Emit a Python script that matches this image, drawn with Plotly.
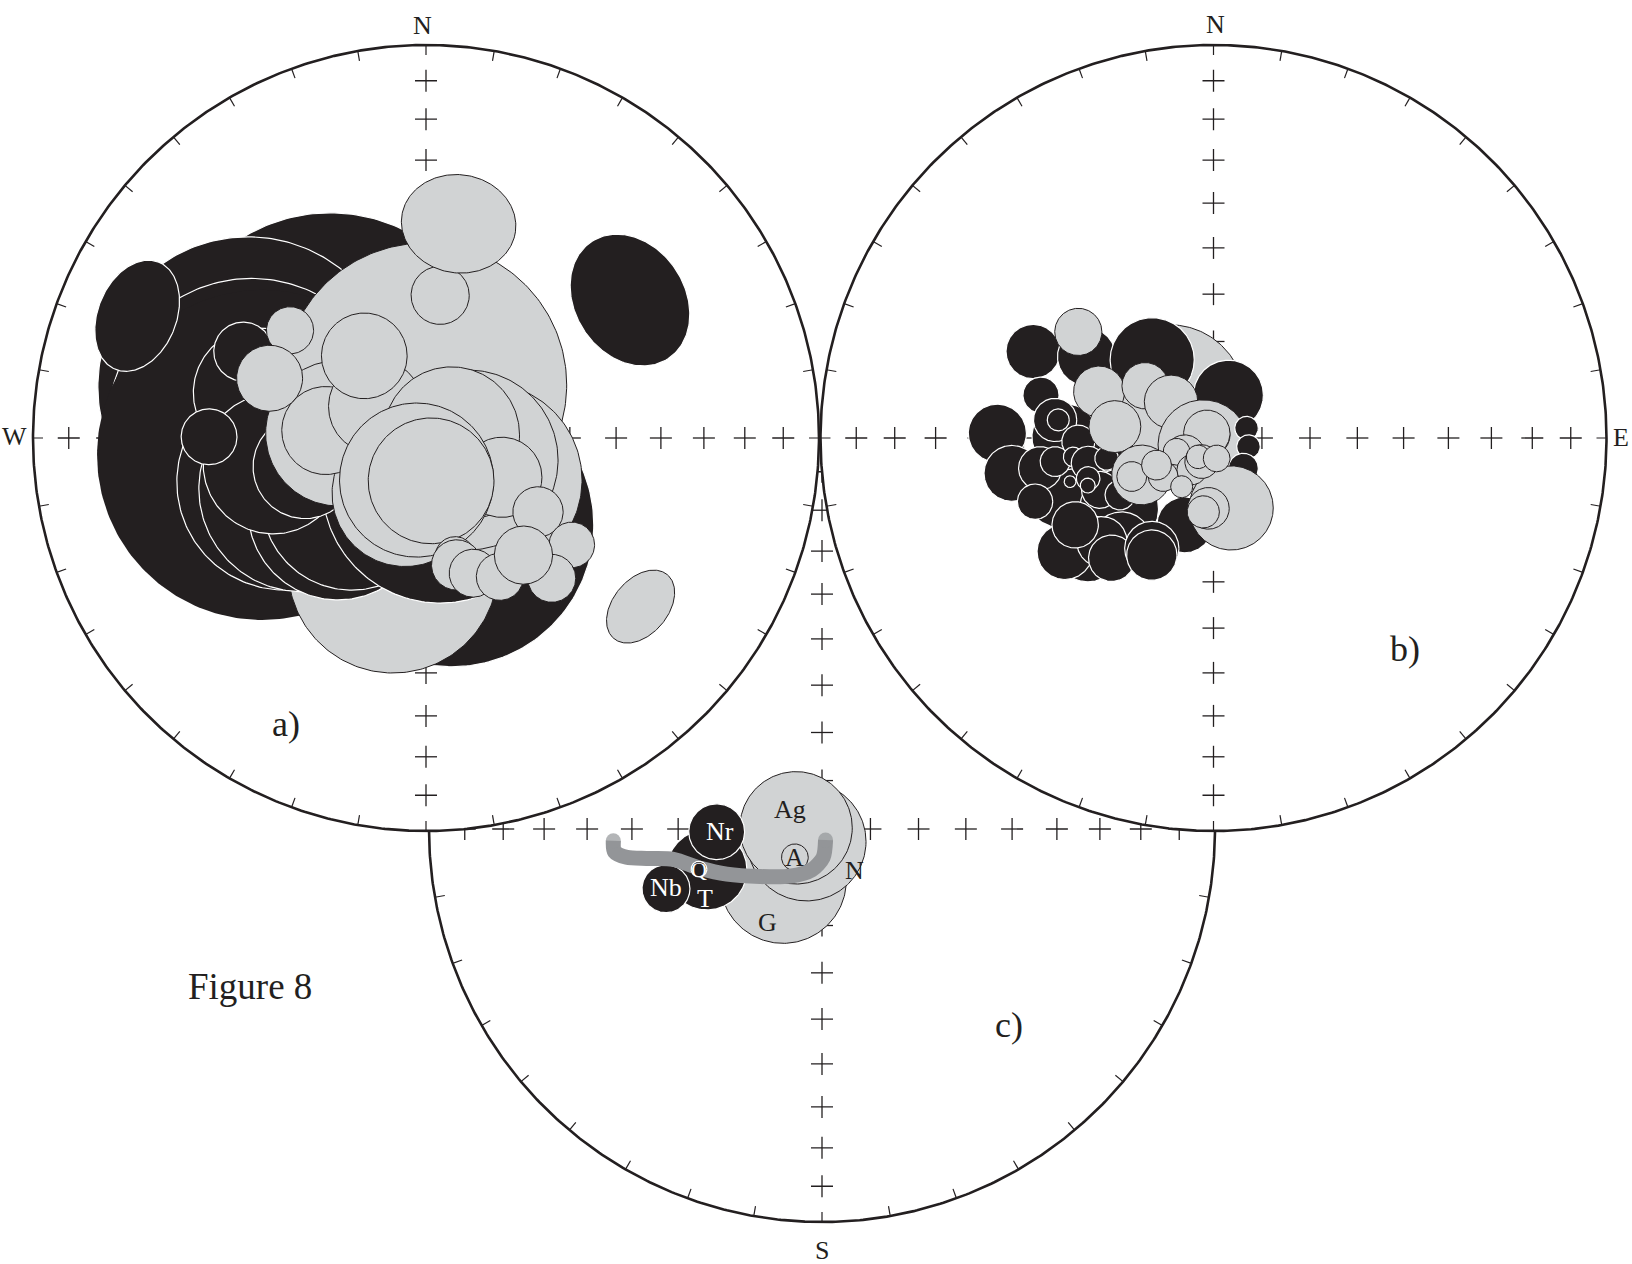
import numpy as np
import plotly.graph_objects as go

INK = "#231f20"
GREY = "#d1d3d4"
TRACK = "#939598"
SERIF = "Liberation Serif, Times New Roman, serif"

PAGE_W, PAGE_H = 1632, 1264
NET_R_PX = 393.0          # primitive radius on the page
HALF = 106.0              # axis half-range; primitive radius = 100 units

# net id, x axis, y axis, centre of the net on the page (px); drawn in this order
NETS = [("c", "x", "y", 822.0, 829.0),
        ("a", "x2", "y2", 426.0, 438.0),
        ("b", "x3", "y3", 1213.5, 438.0)]

CROSS_INCL = [10, 20, 30, 40, 50, 60, 70, 80]   # equal-area inclination crosses
TICK_STEP_DEG = 10

# ---------------- net a : confidence ovals (east, north in % of primitive radius)
# fill: B = black (white rim), K = black (no rim), G = grey (black rim)
A_EAST = [-24.4, 6.6, -45.3, -44.4, -41.7, -73.5, -8.4, -35.9, -31.6, -22.4, -18.9, 3.6,
          -42.7, -38.9, -55.2, -30.8, -46.5, -0.3, 15.0, 10.7, -22.3, -5.3, 3.1,
          -25.5, -12.8, -15.7, -34.6, -39.8, 3.6, 8.3, 6.5, 13.7, 19.3, -2.4, 1.3,
          28.5, 37.1, 32.0, 5.3, 7.4, 7.8, 12.0, 18.8, 24.8, 51.9, 54.6]
A_NORTH = [14.8, -22.1, 13.0, 4.3, -4.3, 31.1, -33.1, -11.2, -12.9, -18.3, -15.8, -12.0,
           11.5, -6.6, 0.3, -7.3, 22.0, 13.5, -10.7, -5.6, 1.2, -14.1, -2.2,
           1.9, 8.0, 20.9, 27.4, 15.2, 36.3, 54.5, 0.8, -13.2, -10.0, -10.7, -10.9,
           -18.8, -27.2, -35.7, -32.3, -30.2, -32.3, -34.4, -35.3, -29.8, 35.1, -42.9]
A_SEMI_MAJOR = [42.5, 36.1, 38.2, 36.3, 42.0, 14.7, 26.7, 27.5, 26.2, 22.9, 22.9, 30.0,
                16.5, 17.8, 7.1, 13.2, 7.5, 36.1, 24.7, 22.9, 18.5, 18.6, 18.2,
                11.2, 12.0, 10.9, 6.0, 8.4, 7.4, 14.6, 17.3, 6.9, 10.2, 19.6, 16.0,
                6.4, 5.8, 6.1, 3.8, 5.1, 6.4, 6.1, 6.0, 7.4, 17.8, 10.6]
A_SEMI_MINOR = [None, None, None, None, None, 10.0, None, None, None, None, None, None,
                None, None, None, None, None, None, None, None, None, None, None,
                None, None, None, None, None, None, 12.5, None, None, None, None, None,
                None, None, None, None, None, None, None, None, None, 14.0, 7.0]
A_TILT = [0, 0, 0, 0, 0, 68, 0, 0, 0, 0, 0, 0,
          0, 0, 0, 0, 0, 0, 0, 0, 0, 0, 0,
          0, 0, 0, 0, 0, 0, -8, 0, 0, 0, 0, 0,
          0, 0, 0, 0, 0, 0, 0, 0, 0, -57, 50]
A_FILL = ["B", "B", "B", "B", "K", "B", "G", "B", "B", "B", "B", "B",
          "B", "B", "B", "B", "B", "G", "G", "G", "G", "G", "G",
          "G", "G", "G", "G", "G", "G", "G", "G", "G", "G", "G", "G",
          "G", "G", "G", "G", "G", "G", "G", "G", "G", "B", "G"]

# ---------------- net b : confidence circles
B_EAST = [-11.1, -33.5, -38.0, -24.0, -45.9, -32.3, -15.6, 3.8, -55.0, -51.3, -37.8, -44.1, -43.9,
          -31.9, -23.4, -37.8, -28.4, -25.9, -35.2, -45.4, -7.3, -15.7, -15.7,
          -40.3, -39.5, -25.9, -34.4, -40.3, -35.7, -31.9, -27.2, -28.9, -23.8,
          -31.9, -36.5, -32.0, -19.5, -17.9, -34.4, -29.1, -25.1, -17.4, -10.8,
          -2.6, 8.4, 8.9, 7.6, -18.3, 4.5, -1.3, -2.6, -1.3, -1.7,
          -7.3, -9.4, -12.8, -20.8, -14.5, -5.5, -3.0, -3.9, 0.8, -8.1]
B_NORTH = [9.7, -6.0, -12.0, -18.0, 22.0, 20.7, 19.9, 10.9, 1.2, -9.0, 0.3, -7.7, 10.9,
           -28.1, -26.4, -28.9, -26.4, -30.6, -22.1, -16.2, -22.1, -28.1, -29.8,
           4.6, 4.6, -1.8, -0.9, -6.0, -4.8, -6.4, -5.2, -13.2, -14.5,
           -10.3, -11.1, -12.1, -5.2, -8.4, 27.0, 11.8, 2.9, 13.3, 9.2,
           -1.8, 2.5, -2.2, -7.7, -9.4, -17.8, -17.9, -18.8, 0.8, 1.2,
           -4.3, -3.5, -9.8, -9.8, -6.9, -8.1, -6.0, -4.8, -5.2, -12.4]
B_RADIUS = [19.1, 12.7, 11.0, 10.0, 6.9, 7.4, 10.7, 8.9, 7.4, 7.1, 8.4, 5.5, 4.6,
            8.5, 7.6, 7.1, 6.4, 5.9, 5.9, 4.5, 7.1, 6.9, 6.4,
            5.5, 2.8, 5.5, 4.2, 3.8, 2.5, 4.3, 3.0, 4.7, 3.8,
            3.0, 1.5, 1.9, 2.1, 2.5, 6.0, 6.5, 6.6, 5.9, 6.8,
            11.5, 3.0, 3.0, 3.8, 7.6, 10.7, 5.3, 4.1, 5.5, 5.9,
            5.1, 3.4, 3.8, 3.8, 3.8, 3.8, 4.3, 3.0, 3.4, 2.8]
B_FILL = ["G", "B", "B", "B", "B", "B", "B", "B", "B", "B", "B", "B", "B",
          "B", "B", "B", "B", "B", "B", "B", "B", "B", "B",
          "B", "B", "B", "B", "B", "B", "B", "B", "B", "B",
          "B", "B", "B", "B", "B", "G", "G", "G", "G", "G",
          "G", "B", "B", "B", "G", "G", "G", "G", "G", "G",
          "G", "G", "G", "G", "G", "G", "G", "G", "G", "G"]

# ---------------- net c : locality means
C_NAME = ["G", "N", "Ag", "A", "T", "Nr", "Nb", "Q"]
C_EAST = [-9.9, -3.9, -6.6, -6.9, -29.3, -26.8, -39.7, -31.3]
C_NORTH = [-13.0, -3.2, 0.3, -7.2, -10.4, -0.7, -15.2, -10.2]
C_RADIUS = [16.1, 15.1, 14.3, 3.4, 10.2, 7.1, 6.1, 2.0]
C_FILL = ["G", "G", "G", "G", "B", "B", "B", "B"]
# label placement relative to each oval (px)
C_LABEL_SHIFT = {"G": (-16, -42), "N": (48, -29), "Ag": (-6, 18), "A": (0, 0),
                 "T": (-2, -29), "Nr": (3, 0), "Nb": (0, 1), "Q": (0, 0)}

# apparent path through net c
PATH_EAST = [-53.1, -52.8, -49.7, -44.6, -37.8, -31.0, -24.2, -15.8, -8.1, -2.6, 0.3, 0.9]
PATH_NORTH = [-3.0, -5.8, -7.2, -7.5, -7.7, -10.0, -11.5, -12.1, -12.0, -10.4, -7.2, -2.8]


def oval(e, n, a, b, tilt):
    t = np.linspace(0, 2 * np.pi, 241)
    b = a if b is None else b
    c, s = np.cos(np.radians(tilt)), np.sin(np.radians(tilt))
    x, y = a * np.cos(t), b * np.sin(t)
    return e + x * c - y * s, n + x * s + y * c


def style(kind):
    if kind == "B":
        return INK, "white", 1.2
    if kind == "K":
        return INK, INK, 0
    return GREY, INK, 1.0


fig = go.Figure()


def add_frame(xa, ya, white_disc):
    t = np.linspace(0, 2 * np.pi, 721)
    if white_disc:
        fig.add_trace(go.Scatter(x=100 * np.cos(t), y=100 * np.sin(t), mode="lines",
                                 fill="toself", fillcolor="white", line=dict(width=0),
                                 xaxis=xa, yaxis=ya, hoverinfo="skip"))
    # inclination crosses on the four axes plus the centre
    arm = 11 / NET_R_PX * 100
    radii = [0.0] + [100 * np.sqrt(2) * np.sin(np.radians((90 - i) / 2)) for i in CROSS_INCL]
    cx, cy = [], []
    for r in radii:
        for dx, dy in ([(0, 0)] if r == 0 else [(0, 1), (1, 0), (0, -1), (-1, 0)]):
            px, py = dx * r, dy * r
            cx += [px - arm, px + arm, None, px, px, None]
            cy += [py, py, None, py - arm, py + arm, None]
    fig.add_trace(go.Scatter(x=cx, y=cy, mode="lines", line=dict(color=INK, width=1.3),
                             xaxis=xa, yaxis=ya, hoverinfo="skip"))
    # azimuth ticks on the primitive
    tick = 10 / NET_R_PX * 100
    tx, ty = [], []
    for az in range(0, 360, TICK_STEP_DEG):
        s, c = np.sin(np.radians(az)), np.cos(np.radians(az))
        tx += [100 * s, (100 - tick) * s, None]
        ty += [100 * c, (100 - tick) * c, None]
    fig.add_trace(go.Scatter(x=tx, y=ty, mode="lines", line=dict(color=INK, width=1.2),
                             xaxis=xa, yaxis=ya, hoverinfo="skip"))
    fig.add_trace(go.Scatter(x=100 * np.cos(t), y=100 * np.sin(t), mode="lines",
                             line=dict(color=INK, width=2.6),
                             xaxis=xa, yaxis=ya, hoverinfo="skip"))


def add_oval(xa, ya, e, n, a, b, tilt, kind):
    fill, edge, w = style(kind)
    x, y = oval(e, n, a, b, tilt)
    fig.add_trace(go.Scatter(x=x, y=y, mode="lines", fill="toself", fillcolor=fill,
                             line=dict(color=edge, width=w),
                             xaxis=xa, yaxis=ya, hoverinfo="skip"))


# net c
add_frame("x", "y", False)
for name, e, n, r, k in zip(C_NAME, C_EAST, C_NORTH, C_RADIUS, C_FILL):
    if name == "Q":
        fig.add_trace(go.Scatter(x=PATH_EAST, y=PATH_NORTH, mode="lines+markers",
                                 line=dict(color=TRACK, width=15, shape="spline", smoothing=0.8),
                                 marker=dict(size=[15] + [0] * (len(PATH_EAST) - 2) + [15],
                                             color=TRACK, line=dict(width=0)),
                                 xaxis="x", yaxis="y", hoverinfo="skip"))
    add_oval("x", "y", e, n, r, None, 0, k)

# net a
add_frame("x2", "y2", True)
for e, n, a, b, tl, k in zip(A_EAST, A_NORTH, A_SEMI_MAJOR, A_SEMI_MINOR, A_TILT, A_FILL):
    add_oval("x2", "y2", e, n, a, b, tl, k)

# net b
add_frame("x3", "y3", True)
for e, n, r, k in zip(B_EAST, B_NORTH, B_RADIUS, B_FILL):
    add_oval("x3", "y3", e, n, r, None, 0, k)

annotations = []
for name, e, n, k in zip(C_NAME, C_EAST, C_NORTH, C_FILL):
    dx, dy = C_LABEL_SHIFT[name]
    inside = name in ("Nr", "Nb", "T", "Q")
    size = 22 if name == "Q" else 26
    annotations.append(dict(x=e, y=n, xref="x", yref="y", text=name, showarrow=False,
                            xshift=dx, yshift=dy, xanchor="center", yanchor="middle",
                            font=dict(family=SERIF, size=size,
                                      color="white" if inside else INK)))


def compass(letter, xref, yref, x, y, dx, dy):
    annotations.append(dict(x=x, y=y, xref=xref, yref=yref, text=letter, showarrow=False,
                            xshift=dx, yshift=dy, xanchor="center", yanchor="middle",
                            font=dict(family=SERIF, size=26, color=INK)))


compass("N", "x2", "y2", 0, 100, -4, 20)
compass("W", "x2", "y2", -100, 0, -19, 2)
compass("N", "x3", "y3", 0, 100, 2, 21)
compass("E", "x3", "y3", 100, 0, 14, 1)
compass("S", "x", "y", 0, -100, 0, -28)

for text, px, py, size in [("a)", 286, 724, 36), ("b)", 1405, 649, 36),
                           ("c)", 1009, 1025, 36), ("Figure 8", 250, 986, 37)]:
    annotations.append(dict(x=px / PAGE_W, y=1 - py / PAGE_H, xref="paper", yref="paper",
                            text=text, showarrow=False, xanchor="center", yanchor="middle",
                            font=dict(family=SERIF, size=size, color=INK)))

layout_axes = {}
half_px = NET_R_PX * HALF / 100
for i, (_, xa, ya, cxp, cyp) in enumerate(NETS):
    suffix = "" if i == 0 else str(i + 1)
    common = dict(visible=False, showgrid=False, zeroline=False, range=[-HALF, HALF],
                  fixedrange=True)
    layout_axes["xaxis" + suffix] = dict(common, domain=[(cxp - half_px) / PAGE_W,
                                                          (cxp + half_px) / PAGE_W],
                                         anchor=ya)
    layout_axes["yaxis" + suffix] = dict(common, domain=[1 - (cyp + half_px) / PAGE_H,
                                                          1 - (cyp - half_px) / PAGE_H],
                                         anchor=xa)

fig.update_layout(width=PAGE_W, height=PAGE_H, margin=dict(l=0, r=0, t=0, b=0),
                  paper_bgcolor="white", plot_bgcolor="rgba(0,0,0,0)",
                  showlegend=False, annotations=annotations, **layout_axes)

fig.write_html("out.html")
